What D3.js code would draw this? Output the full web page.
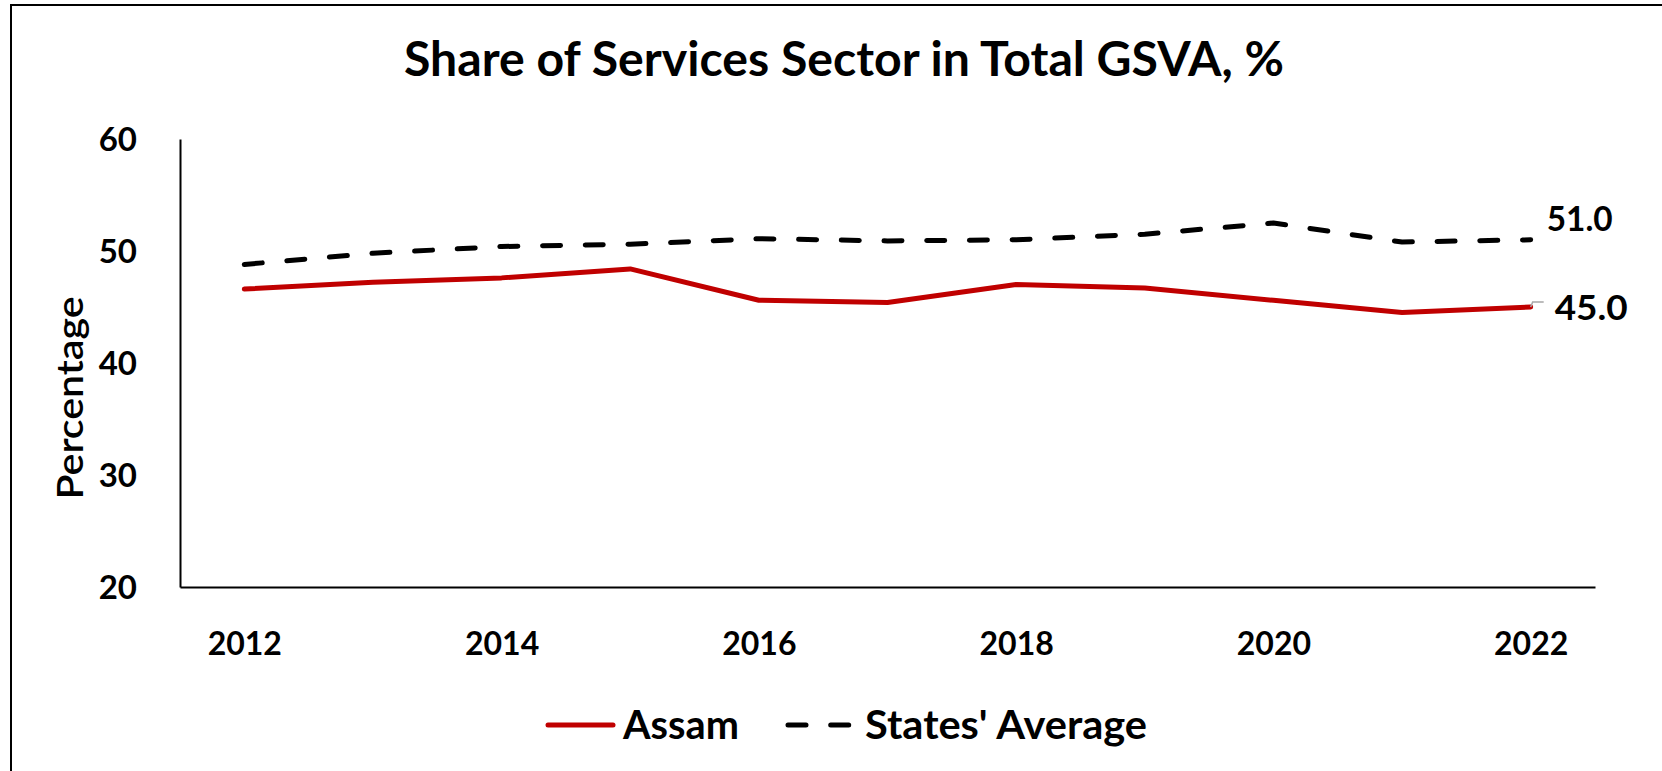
<!DOCTYPE html>
<html>
<head>
<meta charset="utf-8">
<script src="https://cdn.jsdelivr.net/npm/d3@7"></script>
<style>
  html, body { margin: 0; padding: 0; background: #ffffff; }
  svg { display: block; }
  text { font-family: Lato, "Open Sans", "DejaVu Sans", sans-serif; fill: #000; }
</style>
</head>
<body>
<svg id="chart" width="1662" height="771"></svg>
<script>
// ---- data ----
const years = [2012, 2013, 2014, 2015, 2016, 2017, 2018, 2019, 2020, 2021, 2022];
const assam = [46.6, 47.2, 47.6, 48.4, 45.6, 45.4, 47.0, 46.7, 45.6, 44.5, 45.0];
const statesAverage = [48.8, 49.8, 50.4, 50.6, 51.1, 50.9, 51.0, 51.5, 52.5, 50.8, 51.0];
const xTickLabels = [2012, 2014, 2016, 2018, 2020, 2022];
const yTicks = [20, 30, 40, 50, 60];
const seriesNames = ["Assam", "States' Average"];
const endLabels = ["45.0", "51.0"];
const titleText = "Share of Services Sector in Total GSVA, %";
const yAxisTitle = "Percentage";

// ---- layout ----
const svg = d3.select("#chart");
const W = 1662, H = 771;
const plot = { left: 180, right: 1595, top: 139, bottom: 587 };

svg.append("rect").attr("x", 0).attr("y", 0).attr("width", W).attr("height", H).attr("fill", "#fff");
// outer frame (extends beyond right/bottom edges like the reference)
svg.append("rect").attr("x", 11).attr("y", 5).attr("width", 1700).attr("height", 800)
  .attr("fill", "none").attr("stroke", "#000").attr("stroke-width", 2);

const x = d3.scalePoint().domain(years).range([plot.left, plot.right]).padding(0.5);
const y = d3.scaleLinear().domain([20, 60]).range([plot.bottom, plot.top]);

// title
svg.append("text").attr("x", 844).attr("y", 76).attr("text-anchor", "middle")
  .attr("font-size", 47).attr("font-weight", "bold")
  .attr("textLength", 880).attr("lengthAdjust", "spacingAndGlyphs")
  .text(titleText);

// y axis
const yAxis = d3.axisLeft(y).tickValues(yTicks).tickSize(0).tickPadding(0).tickFormat(d3.format("d"));
const gy = svg.append("g").attr("transform", `translate(${plot.left},0)`).call(yAxis);
gy.select(".domain").attr("stroke", "#000").attr("stroke-width", 2);
gy.selectAll(".tick text").attr("x", 137 - plot.left).attr("dy", "0.36em")
  .attr("font-size", 33).attr("font-weight", "bold")
  .attr("font-family", "Lato, 'Open Sans', sans-serif").attr("fill", "#000");

// x axis
const xAxis = d3.axisBottom(x).tickValues(xTickLabels).tickSize(0).tickPadding(0).tickFormat(d3.format("d"));
const gx = svg.append("g").attr("transform", `translate(0,${plot.bottom})`).call(xAxis);
gx.select(".domain").attr("stroke", "#000").attr("stroke-width", 2);
gx.selectAll(".tick text").attr("y", 655 - plot.bottom).attr("dy", 0)
  .attr("font-size", 32).attr("font-weight", "bold")
  .attr("font-family", "Lato, 'Open Sans', sans-serif").attr("fill", "#000");

// y axis title
svg.append("text").attr("transform", "translate(83,398) rotate(-90)")
  .attr("text-anchor", "middle").attr("font-size", 36).attr("font-weight", 600)
  .attr("textLength", 203).attr("lengthAdjust", "spacingAndGlyphs")
  .text(yAxisTitle);

// lines
const line = d3.line().x((d, i) => x(years[i])).y(d => y(d));
svg.append("path").datum(assam).attr("d", line)
  .attr("fill", "none").attr("stroke", "#C00000").attr("stroke-width", 5)
  .attr("stroke-linejoin", "round").attr("stroke-linecap", "round");
svg.append("path").datum(statesAverage).attr("d", line)
  .attr("fill", "none").attr("stroke", "#000").attr("stroke-width", 5)
  .attr("stroke-dasharray", "18 24.7").attr("stroke-linecap", "round")
  .attr("stroke-linejoin", "round");

// end labels
const lastX = x(years[years.length - 1]);
const aY = y(assam[assam.length - 1]);
const sY = y(statesAverage[statesAverage.length - 1]);
svg.append("path")
  .attr("d", `M${lastX},${aY} L${lastX + 2},${aY - 5} L${lastX + 13},${aY - 5}`)
  .attr("fill", "none").attr("stroke", "#a6a6a6").attr("stroke-width", 1.5);
svg.append("text").attr("x", lastX + 24).attr("y", aY + 13)
  .attr("font-size", 35).attr("font-weight", "bold")
  .attr("textLength", 73).attr("lengthAdjust", "spacingAndGlyphs")
  .text(endLabels[0]);
svg.append("text").attr("x", lastX + 16).attr("y", sY - 9)
  .attr("font-size", 35).attr("font-weight", "bold")
  .attr("textLength", 66).attr("lengthAdjust", "spacingAndGlyphs")
  .text(endLabels[1]);

// legend
const leg = svg.append("g");
leg.append("line").attr("x1", 548).attr("x2", 613).attr("y1", 725).attr("y2", 725)
  .attr("stroke", "#C00000").attr("stroke-width", 5).attr("stroke-linecap", "round");
leg.append("text").attr("x", 623).attr("y", 739).attr("font-size", 40).attr("font-weight", "bold")
  .attr("textLength", 116).attr("lengthAdjust", "spacingAndGlyphs").text(seriesNames[0]);
leg.append("line").attr("x1", 788).attr("x2", 849).attr("y1", 725).attr("y2", 725)
  .attr("stroke", "#000").attr("stroke-width", 5).attr("stroke-linecap", "round")
  .attr("stroke-dasharray", "18 24.7");
leg.append("text").attr("x", 865).attr("y", 739).attr("font-size", 40).attr("font-weight", "bold")
  .attr("textLength", 282).attr("lengthAdjust", "spacingAndGlyphs").text(seriesNames[1]);
</script>
</body>
</html>
